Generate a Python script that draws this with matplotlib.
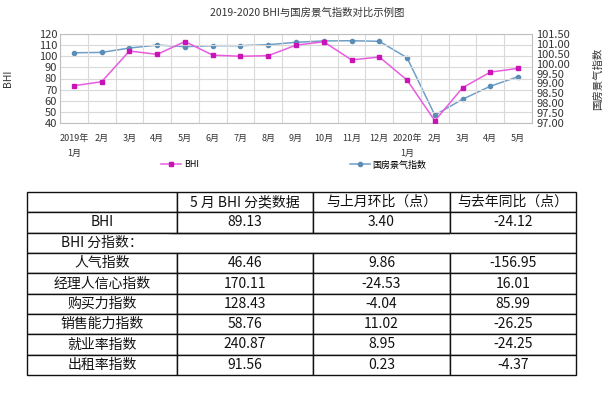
import matplotlib
matplotlib.use("Agg")
import matplotlib.pyplot as plt
import numpy as np
from matplotlib.ticker import FormatStrFormatter

plt.rcParams['font.family'] = ['Noto Sans CJK SC', 'DejaVu Sans']

months = ["2019年\n1月", "2月", "3月", "4月", "5月", "6月", "7月", "8月", "9月",
          "10月", "11月", "12月", "2020年\n1月", "2月", "3月", "4月", "5月"]
bhi = [73.5, 77.1, 104.7, 101.7, 113.2, 101.0, 100.0, 100.5, 110.0,
       113.0, 96.7, 99.3, 78.6, 42.0, 71.7, 85.73, 89.13]
guofang = [100.55, 100.57, 100.79, 100.94, 100.86, 100.91, 100.91, 100.96, 101.08,
           101.15, 101.16, 101.13, 100.30, 97.40, 98.20, 98.86, 99.34]

title = "2019-2020 BHI与国房景气指数对比示例图"
left_label = "BHI"
right_label = "国房景气指数"
series_names = ["BHI", "国房景气指数"]

col_labels = ["", "5 月 BHI 分类数据", "与上月环比（点）", "与去年同比（点）"]
row_names = ["BHI", "BHI 分指数：", "人气指数", "经理人信心指数", "购买力指数",
             "销售能力指数", "就业率指数", "出租率指数"]
val_may = ["89.13", "", "46.46", "170.11", "128.43", "58.76", "240.87", "91.56"]
val_mom = ["3.40", "", "9.86", "-24.53", "-4.04", "11.02", "8.95", "0.23"]
val_yoy = ["-24.12", "", "-156.95", "16.01", "85.99", "-26.25", "-24.25", "-4.37"]

W, H = 614, 393
fig = plt.figure(figsize=(W / 100, H / 100), dpi=100)

# ---- chart ----
L, R, T, B = 60, 532, 34, 123
ax = fig.add_axes([L / W, 1 - B / H, (R - L) / W, (B - T) / H])
x = np.arange(len(months))
ax.set_xlim(-0.5, len(months) - 0.5)
ax.set_ylim(40, 120)
ax.set_yticks(np.arange(40, 121, 10))
ax.set_xticks(x)
ax.set_xticklabels(months, fontsize=6.5, color="#333333", linespacing=1.9)
ax.set_xticks(np.arange(-0.5, len(months), 1), minor=True)
ax.tick_params(axis="x", which="both", length=0, pad=8)
ax.tick_params(axis="y", length=0, labelsize=8, pad=2, colors="#333333")
ax.grid(True, axis="y", color="#d9d9d9", lw=0.8)
ax.grid(True, axis="x", which="minor", color="#d9d9d9", lw=0.8)
ax.set_axisbelow(True)
for s in ax.spines.values():
    s.set_color("#bfbfbf")
    s.set_linewidth(0.8)
ax.set_ylabel(left_label, fontsize=7.5, color="#333333")
ax.yaxis.set_label_coords(-0.1, 0.5)

ax2 = ax.twinx()
ax2.set_ylim(97.0, 101.5)
ax2.set_yticks(np.arange(97.0, 101.51, 0.5))
ax2.yaxis.set_major_formatter(FormatStrFormatter("%.2f"))
ax2.tick_params(axis="y", length=0, labelsize=8, pad=3, colors="#333333")
for s in ax2.spines.values():
    s.set_visible(False)
ax2.set_ylabel(right_label, fontsize=7.5, color="#333333", rotation=90)
ax2.yaxis.set_label_coords(1.13, 0.5)

l2, = ax2.plot(x, guofang, color="#6f9fc8", lw=1.1, marker="o", ms=3,
               mfc="#5a8db5", mec="#5a8db5", label=series_names[1], zorder=3)
l1, = ax.plot(x, bhi, color="#e85ce0", lw=1.1, marker="s", ms=3,
              mfc="#c814b4", mec="#c814b4", label=series_names[0], zorder=4)
ax.set_zorder(ax2.get_zorder() + 1)
ax.patch.set_visible(False)

fig.text(307 / W, 1 - 13 / H, title, ha="center", va="center", fontsize=7.5, color="#333333")

lg1 = fig.legend([l1], [series_names[0]], loc="center", bbox_to_anchor=(180 / W, 1 - 165 / H),
                 frameon=False, fontsize=6.5, handlelength=2.2, handletextpad=0.3)
lg2 = fig.legend([l2], [series_names[1]], loc="center", bbox_to_anchor=(388 / W, 1 - 165 / H),
                 frameon=False, fontsize=6.5, handlelength=2.2, handletextpad=0.3)

# ---- table ----
TL, TR, TT, TB = 27, 576, 192, 375
tax = fig.add_axes([TL / W, 1 - TB / H, (TR - TL) / W, (TB - TT) / H])
tax.axis("off")
cell_text = [col_labels] + [[r, a, b, c] for r, a, b, c in zip(row_names, val_may, val_mom, val_yoy)]
widths = np.array([150, 136, 137, 126], dtype=float)
widths /= widths.sum()
tbl = tax.table(cellText=cell_text, colWidths=list(widths), cellLoc="center",
                bbox=[0, 0, 1, 1])
tbl.auto_set_font_size(False)
for (r, c), cell in tbl.get_celld().items():
    cell.set_linewidth(1.0)
    cell.set_edgecolor("#111111")
    cell.get_text().set_fontsize(10)
    cell.get_text().set_color("#111111")
    if r == 2:
        if c == 0:
            cell.visible_edges = "BTL"
        elif c == 3:
            cell.visible_edges = "BTR"
        else:
            cell.visible_edges = "BT"

fig.savefig("out.png", dpi=100)
